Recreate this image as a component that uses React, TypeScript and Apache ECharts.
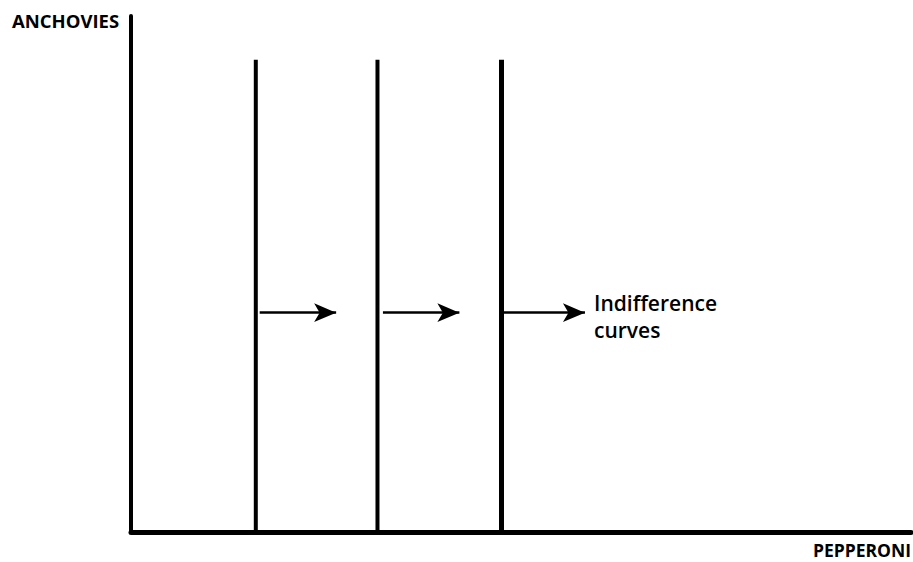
import React, { useEffect, useRef } from "react";
import * as echarts from "echarts";

// Positions of the three vertical indifference curves (pepperoni quantity)
const curveX = [16, 31.6, 47.5];
const curveTop = 91.5;
const curveWidths = [4, 4, 5];
// Arrows: [startX, endX] at a common anchovies level
const arrowSegments: [number, number][] = [
  [16.5, 26.3],
  [32.3, 42.1],
  [47.7, 58.2],
];
const arrowY = 42.5;
const yAxisTitle = "ANCHOVIES";
const xAxisTitle = "PEPPERONI";
const curveLabel = "Indifference\ncurves";

export default function App() {
  const ref = useRef<HTMLDivElement>(null);
  useEffect(() => {
    if (!ref.current) return;
    const chart = echarts.init(ref.current, null, { renderer: "svg" });
    const series: any[] = curveX.map((x, i) => ({
      type: "line",
      data: [
        [x, 0],
        [x, curveTop],
      ],
      symbol: "none",
      lineStyle: { color: "#000", width: curveWidths[i] },
      silent: true,
    }));
    series.push({
      type: "line",
      data: [],
      markLine: {
        silent: true,
        symbol: ["none", "arrow"],
        symbolSize: [14, 22],
        label: { show: false },
        lineStyle: { color: "#000", width: 2.5, type: "solid" },
        data: arrowSegments.map(([a, b]) => [
          { coord: [a, arrowY] },
          { coord: [b, arrowY] },
        ]),
      },
    });
    chart.setOption({
      animation: false,
      backgroundColor: "#fff",
      grid: { left: 131, right: 2, top: 16, bottom: 30 },
      xAxis: {
        type: "value",
        min: 0,
        max: 100,
        axisLine: { show: true, onZero: false, lineStyle: { color: "#000", width: 5 } },
        axisTick: { show: false },
        axisLabel: { show: false },
        splitLine: { show: false },
      },
      yAxis: {
        type: "value",
        min: 0,
        max: 100,
        axisLine: { show: true, onZero: false, lineStyle: { color: "#000", width: 4 } },
        axisTick: { show: false },
        axisLabel: { show: false },
        splitLine: { show: false },
      },
      graphic: [
        {
          type: "text",
          left: 12,
          top: 11,
          style: {
            text: yAxisTitle,
            font: "bold 18.5px 'Open Sans'",
            fill: "#000",
          },
        },
        {
          type: "text",
          right: 2,
          top: 541,
          style: {
            text: xAxisTitle,
            font: "bold 17.5px 'Open Sans'",
            fill: "#000",
          },
        },
        {
          type: "text",
          left: 594,
          top: 289,
          style: {
            text: curveLabel,
            font: "600 21px 'Open Sans'",
            lineHeight: 27,
            fill: "#000",
          },
        },
      ],
      series,
    });
    return () => chart.dispose();
  }, []);
  return <div ref={ref} style={{ width: 913, height: 562, position: "absolute", left: 0, top: 0 }} />;
}
